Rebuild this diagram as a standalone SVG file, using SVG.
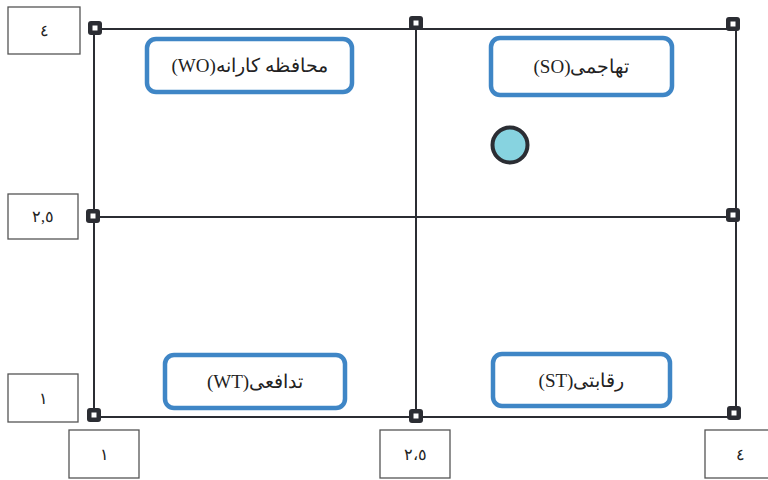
<svg xmlns="http://www.w3.org/2000/svg" width="768" height="480" viewBox="0 0 768 480">
<style>
.grid{stroke:#2b2d33;stroke-width:2;fill:none}
.lbl rect{fill:#fff;stroke:#555;stroke-width:1.3}
.lbl text{font-family:"Liberation Serif","DejaVu Serif",serif;font-size:16px;fill:#222;text-anchor:middle}
.q rect{fill:#fff;stroke:#3f86c6;stroke-width:4.5}
.q text{font-family:"Liberation Serif","DejaVu Serif",serif;font-size:19px;fill:#222;text-anchor:middle}
.mk{fill:#2b2d33}
.mki{fill:#fff}
</style>
<defs>
<g id="m"><rect class="mk" x="-7" y="-7" width="14" height="14" rx="3"/><rect class="mki" x="-2.5" y="-2.5" width="5" height="5"/></g>
</defs>
<rect width="768" height="480" fill="#fff"/>
<g id="connectors">
<line class="grid" x1="94" y1="29" x2="736" y2="29"/>
<line class="grid" x1="94" y1="217" x2="736" y2="217"/>
<line class="grid" x1="94" y1="417" x2="736" y2="417"/>
<line class="grid" x1="94" y1="29" x2="94" y2="417"/>
<line class="grid" x1="416" y1="23" x2="416" y2="417"/>
<line class="grid" x1="736" y1="24" x2="736" y2="417"/>
</g>
<g id="markers">
<use href="#m" x="95" y="28"/>
<use href="#m" x="416" y="23"/>
<use href="#m" x="733" y="24"/>
<use href="#m" x="93" y="216"/>
<use href="#m" x="733" y="215"/>
<use href="#m" x="94" y="415"/>
<use href="#m" x="416" y="416"/>
<use href="#m" x="734" y="413"/>
</g>
<g id="y4" class="lbl"><rect x="8" y="7" width="72" height="47"/><text x="44" y="36">٤</text></g>
<g id="y25" class="lbl"><rect x="8" y="194" width="70" height="45"/><text x="43" y="222">٢,٥</text></g>
<g id="y1" class="lbl"><rect x="8" y="374" width="70" height="48"/><text x="43" y="404">١</text></g>
<g id="x1" class="lbl"><rect x="69" y="430" width="70" height="48"/><text x="104" y="460">١</text></g>
<g id="x25" class="lbl"><rect x="380" y="430" width="70" height="48"/><text x="415" y="460">٢،٥</text></g>
<g id="x4" class="lbl"><rect x="705" y="430" width="70" height="48"/><text x="740" y="460">٤</text></g>
<g id="WO" class="q"><rect x="147" y="39" width="205" height="53" rx="9"/><text x="249.5" y="72" direction="rtl">محافظه کارانه(WO)</text></g>
<g id="SO" class="q"><rect x="491" y="38" width="181" height="57" rx="9"/><text x="581.5" y="73" direction="rtl">تهاجمی(SO)</text></g>
<g id="WT" class="q"><rect x="165" y="355" width="180" height="53" rx="9"/><text x="255" y="388" direction="rtl">تدافعی(WT)</text></g>
<g id="ST" class="q"><rect x="493" y="354" width="177" height="52" rx="9"/><text x="581.5" y="387" direction="rtl">رقابتی(ST)</text></g>
<g id="point"><circle cx="510" cy="145" r="17.5" fill="#87d3e0" stroke="#2b2d33" stroke-width="4"/></g>
</svg>
